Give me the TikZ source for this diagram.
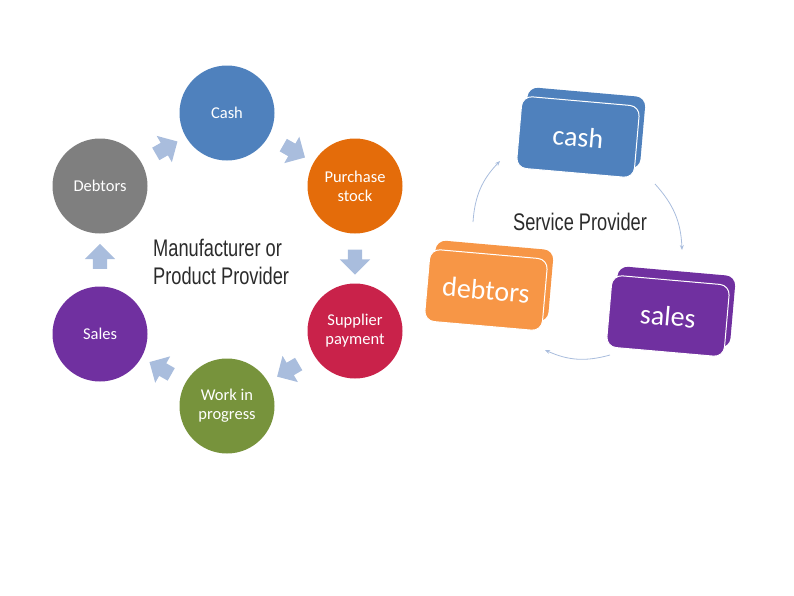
\documentclass[tikz,border=0pt]{standalone}
\usepackage{fontspec}
\setmainfont{Carlito}
\newfontfamily\headfont[FakeStretch=0.76]{Liberation Sans}
\usetikzlibrary{shapes.arrows,arrows.meta}

\definecolor{cashblue}{HTML}{4F81BD}
\definecolor{stockorange}{HTML}{E46C0A}
\definecolor{payred}{HTML}{C9224A}
\definecolor{wipgreen}{HTML}{77933C}
\definecolor{salespurple}{HTML}{7030A0}
\definecolor{debtgray}{HTML}{7F7F7F}
\definecolor{debtorange}{HTML}{F79646}
\definecolor{flowblue}{HTML}{A9BDDD}
\definecolor{headgray}{HTML}{2B2B2B}

\tikzset{
  stage/.style={circle, minimum size=95pt, inner sep=0pt, text=white, align=center,
    font=\fontsize{16.5}{19}\selectfont},
  turn/.style={single arrow, fill=flowblue, draw=none, minimum height=25pt,
    inner xsep=0pt, inner ysep=7pt, single arrow head extend=8pt, sloped, allow upside down},
  card/.style={rounded corners=10pt, minimum width=118pt, minimum height=72pt, rotate=-5,
    text=white, font=\fontsize{28}{30}\selectfont},
  cardfront/.style={card, draw=white, line width=1pt},
  heading/.style={text=headgray, inner sep=0pt, font=\headfont\fontsize{24}{28}\selectfont},
  link/.style={-{Stealth[length=5pt,width=4pt]}, flowblue, line width=0.8pt},
}

\begin{document}
\begin{tikzpicture}[x=1pt, y=-1pt]
  \useasboundingbox (0,0) rectangle (794,595);

  % manufacturer cycle
  \node[stage, fill=cashblue] (cash) at (227,113) {Cash};
  \node[stage, fill=stockorange] (purchase) at (355,186) {Purchase\\stock};
  \node[stage, fill=payred] (supplier) at (355,331) {Supplier\\payment};
  \node[stage, fill=wipgreen] (wip) at (227,406) {Work in\\progress};
  \node[stage, fill=salespurple] (sales) at (100,334) {Sales};
  \node[stage, fill=debtgray] (debtors) at (100,186) {Debtors};

  \path (cash) -- node[turn] (t1) {} (purchase);
  \path (purchase) -- node[turn] (t2) {} (supplier);
  \path (supplier) -- node[turn] (t3) {} (wip);
  \path (wip) -- node[turn] (t4) {} (sales);
  \path (sales) -- node[turn] (t5) {} (debtors);
  \path (debtors) -- node[turn] (t6) {} (cash);

  \node[heading, anchor=west, align=left] (mfr) at (153,262) {Manufacturer or\\Product Provider};

  % service provider cycle
  \node[card, fill=cashblue] (scashback) at (584,128) {};
  \node[cardfront, fill=cashblue] (scash) at (578,137) {cash};
  \node[card, fill=debtorange] (sdebtorsback) at (492,281) {};
  \node[cardfront, fill=debtorange] (sdebtors) at (486,290) {debtors};
  \node[card, fill=salespurple] (ssalesback) at (674,307) {};
  \node[cardfront, fill=salespurple] (ssales) at (668,316) {sales};

  \node[heading, anchor=base] (svc) at (580,230) {Service Provider};

  \draw[link] ([shift={(77,47)}]scash.center) to[bend left=20] ([shift={(14,-66)}]ssales.center);
  \draw[link] ([shift={(-58,39)}]ssales.center) to[bend left=20] ([shift={(59,60)}]sdebtors.center);
  \draw[link] ([shift={(-13,-68)}]sdebtors.center) to[bend left=20] ([shift={(-78,24)}]scash.center);
\end{tikzpicture}
\end{document}
